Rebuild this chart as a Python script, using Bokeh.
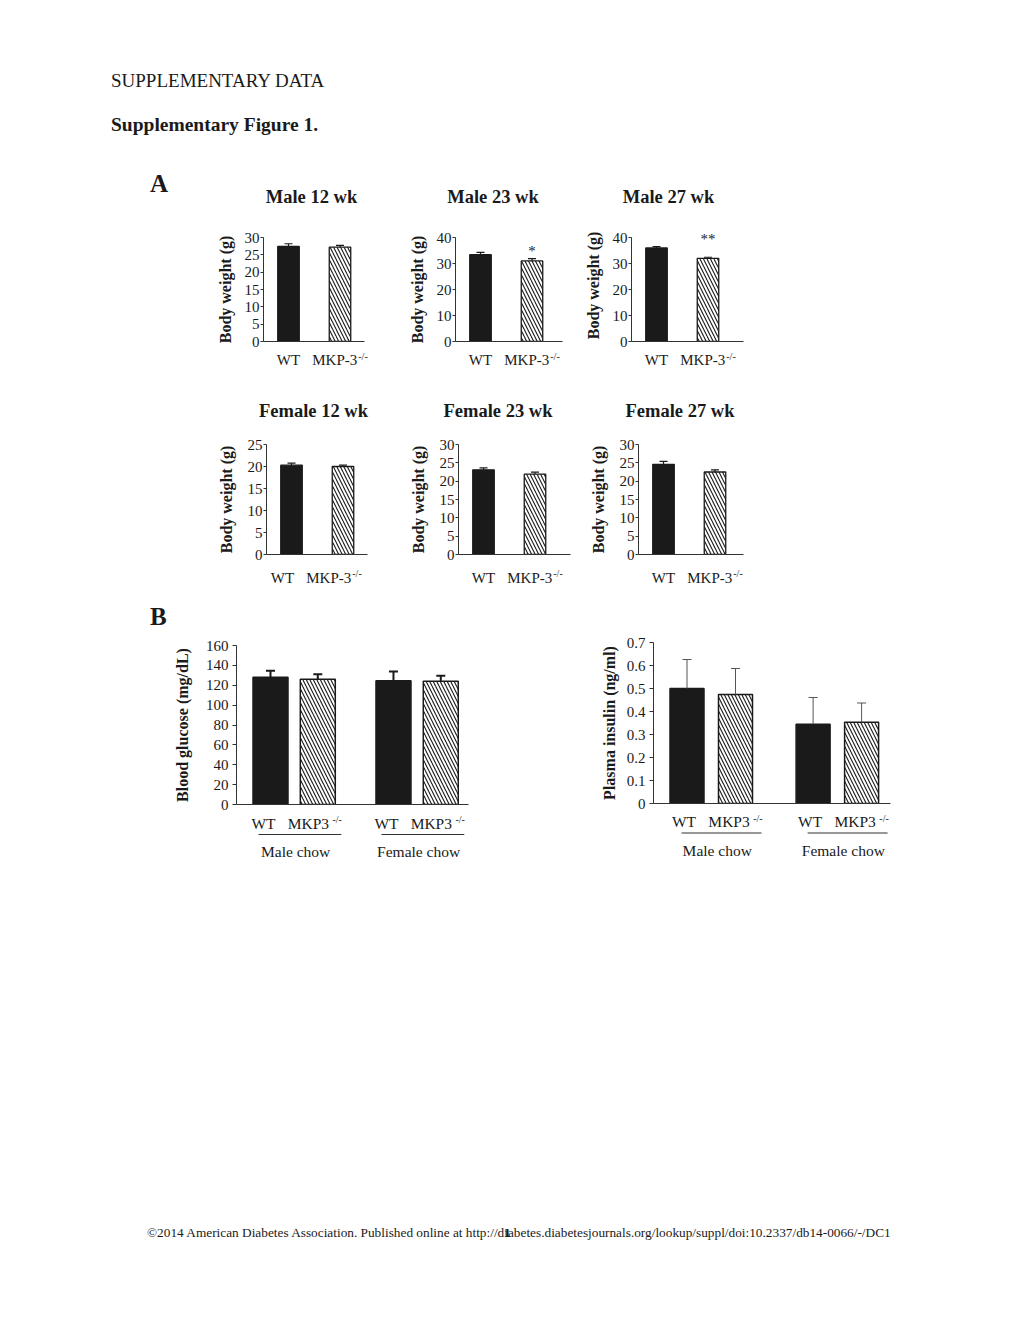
from bokeh.plotting import figure
from bokeh.models import (ColumnDataSource, Range1d, FixedTicker, Whisker, TeeHead,
                          Label, Div, Spacer)
from bokeh.core.properties import value
from bokeh.layouts import column, row
from bokeh.embed import file_html
from bokeh.resources import INLINE

FONT = "Liberation Serif"
INK = "#1a1a1a"
AXIS = "#333333"

# ---------------- data ----------------
# Panel A: body weight (g), mean and SEM for WT and MKP-3-/-
genotypes_a = ["WT", "MKP-3"]
genotype_sup = "-/-"
male12_mean = [27.4, 27.2]
male12_sem = [0.8, 0.5]
male23_mean = [33.4, 31.0]
male23_sem = [0.9, 0.9]
male27_mean = [36.0, 32.0]
male27_sem = [0.5, 0.4]
female12_mean = [20.3, 20.0]
female12_sem = [0.45, 0.3]
female23_mean = [23.1, 21.9]
female23_sem = [0.5, 0.55]
female27_mean = [24.6, 22.5]
female27_sem = [0.8, 0.6]
male23_sig = ["", "*"]
male27_sig = ["", "**"]
ticks_25 = [0, 5, 10, 15, 20, 25]
ticks_30 = [0, 5, 10, 15, 20, 25, 30]
ticks_40 = [0, 10, 20, 30, 40]

# Panel B
genotypes_b = ["WT", "MKP3", "WT", "MKP3"]
diet_groups = ["Male chow", "Female chow"]
glucose_mean = [128.0, 126.0, 124.5, 124.0]
glucose_sem = [6.5, 5.0, 9.3, 5.5]
insulin_mean = [0.50, 0.474, 0.345, 0.353]
insulin_sem = [0.126, 0.113, 0.116, 0.084]
glucose_ticks = [0, 20, 40, 60, 80, 100, 120, 140, 160]
insulin_ticks = [0, 0.1, 0.2, 0.3, 0.4, 0.5, 0.6, 0.7]
insulin_tick_labels = ["0", "0.1", "0.2", "0.3", "0.4", "0.5", "0.6", "0.7"]

# ---------------- helpers ----------------
CHAR_W = {"M": .889, "K": .722, "P": .556, "-": .333, "3": .5, "W": .944, "T": .611,
          "/": .278}


def text_w(s, size):
    return sum(CHAR_W.get(c, .5) for c in s) * size


def plain(p):
    p.outline_line_color = None
    p.xgrid.visible = False
    p.ygrid.visible = False
    p.background_fill_color = "white"
    p.border_fill_color = "white"
    p.frame_align = False


def bar_chart(means, sems, labels, yticks, ytick_labels, ylabel, geom, st,
              sig=None, groups=None):
    w, mbl, mbr, mbt, fh = geom
    hr = st.get("headroom", 0)
    gap = st["gap_px"]
    unit = st["unit"]
    n = len(means)
    pos = [i + 1 + st["gap"] * (i // 2) for i in range(n)]
    fw = w - mbl - mbr
    ytop = yticks[-1]
    py = ytop / fh
    x0 = pos[0] - st["lead"] / unit
    x1 = x0 + fw / unit
    p = figure(width=w, height=mbt + fh + gap, x_range=Range1d(x0, x1),
               y_range=Range1d(0, ytop + hr * py), min_border_left=mbl,
               min_border_right=mbr, min_border_top=mbt - hr, min_border_bottom=gap,
               output_backend="svg", toolbar_location=None, title=None, margin=0)
    plain(p)

    src = ColumnDataSource(dict(
        x=pos, top=means, upper=[m + s for m, s in zip(means, sems)],
        fill=[INK if i % 2 == 0 else "white" for i in range(n)],
        hatch=["blank" if i % 2 == 0 else "left_diagonal_line" for i in range(n)]))
    p.vbar(x="x", top="top", bottom=0, width=st["bar_px"] / unit, source=src,
           fill_color="fill", line_color=INK, line_width=st["bar_lw"],
           hatch_pattern="hatch", hatch_color=INK, hatch_scale=st["hatch_scale"],
           hatch_weight=st["hatch_w"])
    p.add_layout(Whisker(source=src, base="x", lower="top", upper="upper",
                         dimension="height", line_color=st["err_color"],
                         line_width=st["err_lw"],
                         upper_head=TeeHead(size=st["cap"], line_color=st["err_color"],
                                            line_width=st["err_lw"]),
                         lower_head=None, level="annotation"))

    # y axis
    ya = p.yaxis[0]
    ya.ticker = FixedTicker(ticks=yticks)
    ya.major_label_overrides = {t: lab for t, lab in zip(yticks, ytick_labels)}
    ya.bounds = (0, ytop)
    ya.axis_line_color = AXIS
    ya.major_tick_line_color = AXIS
    ya.major_tick_in = 0
    ya.major_tick_out = st["tick_out"]
    ya.minor_tick_line_color = None
    ya.major_label_standoff = st["tick_standoff"]
    ya.major_label_text_font = FONT
    ya.major_label_text_font_size = st["tick_font"]
    ya.major_label_text_color = INK
    ya.axis_label = ylabel
    ya.axis_label_text_font = FONT
    ya.axis_label_text_font_style = "bold"
    ya.axis_label_text_font_size = st["ylabel_font"]
    ya.axis_label_text_color = INK
    ya.axis_label_standoff = int(st["ylabel_standoff"])

    # x axis: the base line only; its labels are set in the strip below
    xa = p.xaxis[0]
    xa.ticker = FixedTicker(ticks=[])
    xa.axis_line_color = AXIS
    xa.major_tick_line_color = None
    xa.minor_tick_line_color = None
    xa.major_tick_out = 0
    xa.major_tick_in = 0
    xa.major_label_standoff = 0

    # significance marks
    if sig is not None:
        for i in range(n):
            if sig[i]:
                p.add_layout(Label(x=pos[i], y=means[i] + sems[i] + st["star_pad"] * py,
                                   text=sig[i], text_font=FONT, text_font_size="15px",
                                   text_color=INK, text_align="center",
                                   text_baseline="middle"))

    # label strip sharing the same horizontal scale
    hs = st["strip_h"]
    s = figure(width=w, height=hs, x_range=Range1d(x0 - mbl / unit, x1 + mbr / unit),
               y_range=Range1d(hs, 0), x_axis_type=None, y_axis_type=None,
               min_border=0, output_backend="svg", toolbar_location=None, title=None,
               margin=0)
    plain(s)

    xf = st["xfont"]
    sf = st["sup_size"]
    lab_x, lab_off, sup_x, sup_off = [], [], [], []
    for i, lab in enumerate(labels):
        xc = pos[i] + st["label_shift"][i % 2] / unit
        mw = text_w(lab, xf)
        lab_x.append(xc)
        if i % 2 == 1:
            total = mw + st["sup_gap"] + text_w(genotype_sup, sf)
            lab_off.append(-total / 2)
            sup_x.append(xc)
            sup_off.append(-total / 2 + mw + st["sup_gap"])
        else:
            lab_off.append(-mw / 2)
    lsrc = ColumnDataSource(dict(x=lab_x, y=[st["lab_y"] - gap] * n, text=labels, xo=lab_off))
    s.text(x="x", y="y", text="text", x_offset="xo", source=lsrc,
           text_font=value(FONT), text_font_size=value("%gpx" % xf), text_color=INK,
           text_align="left", text_baseline="middle")
    ssrc = ColumnDataSource(dict(x=sup_x, y=[st["sup_y"] - gap] * len(sup_x),
                                 text=[genotype_sup] * len(sup_x), xo=sup_off))
    s.text(x="x", y="y", text="text", x_offset="xo", source=ssrc,
           text_font=value(FONT), text_font_size=value("%gpx" % sf), text_color=INK,
           text_align="left", text_baseline="middle")

    if groups is not None:
        g0 = [pos[2 * g] + st["ul_pad"][0] / unit for g in range(len(groups))]
        g1 = [pos[2 * g + 1] + st["ul_pad"][1] / unit for g in range(len(groups))]
        yu = st["ul_y"] - gap
        s.segment(x0=g0, y0=[yu] * len(groups), x1=g1, y1=[yu] * len(groups),
                  line_color=AXIS, line_width=1)
        gc = [(pos[2 * g] + pos[2 * g + 1]) / 2 + st["grp_shift"] / unit
              for g in range(len(groups))]
        s.text(x=gc, y=[st["grp_y"] - gap] * len(groups), text=groups,
               text_font=value(FONT), text_font_size=value("15.5px"), text_color=INK,
               text_align="center", text_baseline="middle")
    return column(p, s, spacing=0)


def abs_text(items, width, height):
    parts = []
    for txt, x, base, size, bold, anchor in items:
        top = base - 0.8375 * size
        tr = "transform:translateX(-50%);" if anchor == "center" else ""
        parts.append(
            '<div style="position:absolute;left:%gpx;top:%.1fpx;font-family:\'Liberation Serif\',serif;'
            'font-size:%gpx;line-height:%gpx;font-weight:%s;white-space:nowrap;color:%s;%s">%s</div>'
            % (x, top, size, size, "bold" if bold else "normal", INK, tr, txt))
    html = ('<div style="position:relative;width:%dpx;height:%dpx;overflow:visible;">%s</div>'
            % (width, height, "".join(parts)))
    return Div(text=html, width=width, height=height, margin=0)


# ---------------- styles ----------------
A_BASE = dict(unit=51.5, lead=25, gap=0, gap_px=9, bar_px=21.5, bar_lw=1.3,
              hatch_scale=7, hatch_w=1.1, err_color=INK, err_lw=1.2, cap=8, tick_out=3,
              tick_standoff=1, tick_font="15px", ylabel_font="16px", xfont=15,
              label_shift=(0, 0), sup_size=10, sup_gap=1, star_pad=8)
A_MALE = dict(A_BASE, lab_y=18, sup_y=15, strip_h=22, ylabel_standoff=8)
A_FEMALE = dict(A_BASE, lab_y=23.5, sup_y=19, strip_h=27, ylabel_standoff=10)

B_LEFT = dict(unit=47.3, lead=34, gap=0.6, gap_px=9, bar_px=35, bar_lw=1.5, hatch_scale=7,
              hatch_w=1.1, err_color=INK, err_lw=2, cap=9, tick_out=4, tick_standoff=4,
              tick_font="15px", ylabel_font="16px", xfont=15.5, label_shift=(-7, -3),
              sup_size=10, sup_gap=3.5, lab_y=19, sup_y=15, ul_y=30, grp_y=46.5,
              strip_h=57, ylabel_standoff=12, ul_pad=(-12, 23.5), grp_shift=1.5)
B_RIGHT = dict(B_LEFT, unit=48.5, lead=33.5, bar_px=34, err_color="#555555", err_lw=1,
               label_shift=(-3, 0), lab_y=18, sup_y=15, ul_y=29.5, grp_y=46.5,
               strip_h=58, ylabel_standoff=6, ul_pad=(-5.5, 26), grp_shift=6)

# ---------------- charts ----------------
yl = "Body weight (g)"
m12 = bar_chart(male12_mean, male12_sem, genotypes_a, ticks_30, [str(t) for t in ticks_30], yl,
                (195, 73, 21, 27, 104), A_MALE)
m23 = bar_chart(male23_mean, male23_sem, genotypes_a, ticks_40, [str(t) for t in ticks_40], yl,
                (190, 70, 13, 27, 104), dict(A_MALE, star_pad=8), sig=male23_sig)
m27 = bar_chart(male27_mean, male27_sem, genotypes_a, ticks_40, [str(t) for t in ticks_40], yl,
                (205, 56, 37, 27, 104), dict(A_MALE, star_pad=18, headroom=8), sig=male27_sig)
f12 = bar_chart(female12_mean, female12_sem, genotypes_a, ticks_25, [str(t) for t in ticks_25], yl,
                (200, 76, 23, 14, 110), dict(A_FEMALE, label_shift=(-9, -9)))
f23 = bar_chart(female23_mean, female23_sem, genotypes_a, ticks_30, [str(t) for t in ticks_30], yl,
                (190, 68, 10, 14, 110), A_FEMALE)
f27 = bar_chart(female27_mean, female27_sem, genotypes_a, ticks_30, [str(t) for t in ticks_30], yl,
                (200, 58, 37, 14, 110), A_FEMALE)
glu = bar_chart(glucose_mean, glucose_sem, genotypes_b, glucose_ticks,
                [str(t) for t in glucose_ticks], "Blood glucose (mg/dL)",
                (400, 76, 92, 15, 159), B_LEFT, groups=diet_groups)
ins = bar_chart(insulin_mean, insulin_sem, genotypes_b, insulin_ticks, insulin_tick_labels,
                "Plasma insulin (ng/ml)", (360, 93, 30, 12, 161), B_RIGHT,
                groups=diet_groups)

# ---------------- page text ----------------
head = abs_text([
    ("SUPPLEMENTARY DATA", 111, 86.5, 19, False, "left"),
    ("Supplementary Figure 1.", 111, 131, 19.5, True, "left"),
    ("A", 150, 192, 25, True, "left"),
    ("Male 12 wk", 311.5, 203.5, 18.5, True, "center"),
    ("Male 23 wk", 493, 203.5, 18.5, True, "center"),
    ("Male 27 wk", 668.5, 203.5, 18.5, True, "center"),
], 1020, 210)
ftitles = abs_text([
    ("Female 12 wk", 313.5, 45, 18.5, True, "center"),
    ("Female 23 wk", 498, 45, 18.5, True, "center"),
    ("Female 27 wk", 680, 45, 18.5, True, "center"),
], 1020, 58)
btitle = abs_text([("B", 150, 35, 25, True, "left")], 1020, 40)
footer = abs_text([
    ("&copy;2014 American Diabetes Association. Published online at "
     "http://diabetes.diabetesjournals.org/lookup/suppl/doi:10.2337/db14-0066/-/DC1",
     147, 22, 13.3, False, "left"),
    ("1", 504, 22, 13.3, True, "left"),
], 1020, 35)

layout = column(
    head,
    row(Spacer(width=190, height=162), m12, m23, m27),
    ftitles,
    row(Spacer(width=190, height=160), f12, f23, f27),
    btitle,
    row(Spacer(width=160, height=240), glu, ins),
    Spacer(width=1020, height=345),
    footer,
)

open("out.html", "w").write(file_html(layout, INLINE))
